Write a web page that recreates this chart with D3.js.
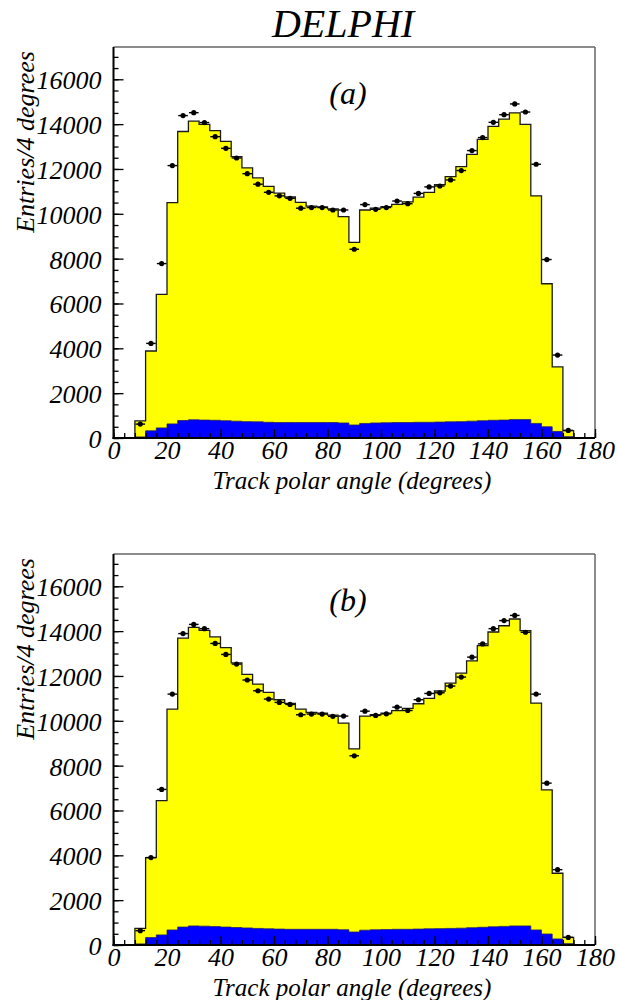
<!DOCTYPE html>
<html><head><meta charset="utf-8">
<script src="https://cdn.jsdelivr.net/npm/d3@7"></script>
<style>
body{margin:0;background:#fff}
svg{display:block}
</style>
</head><body><svg id="c" width="618" height="1000"></svg>
<script>
// ---- data ----
const binCenters = [10,14,18,22,26,30,34,38,42,46,50,54,58,62,66,70,74,78,82,86,90,94,98,102,106,110,114,118,122,126,130,134,138,142,146,150,154,158,162,166,170];
const binWidth = 4;

const mcA = [760,3880,6410,10500,13670,14130,13990,13710,13230,12550,12050,11600,11220,10920,10750,10510,10340,10310,10220,9870,8730,10170,10250,10320,10420,10530,10740,10960,11300,11660,12100,12650,13320,13900,14220,14500,13990,10800,6880,3170,330];
const dataA = [620,4220,7780,12150,14380,14510,14070,13440,12920,12490,11790,11320,10960,10800,10690,10250,10280,10280,10170,10170,8420,10410,10200,10280,10570,10450,10910,11200,11240,11510,11930,12820,13400,14080,14420,14900,14540,12210,7960,3700,340];
const bkgA = [50,320,450,630,780,810,800,790,770,750,730,720,700,690,690,690,690,690,690,670,580,650,670,680,690,690,700,700,710,720,730,750,770,790,800,820,820,650,500,290,60];

const mcB = [740,3900,6440,10520,13690,14170,14030,13740,13260,12580,12070,11640,11270,10940,10780,10520,10370,10340,10250,9900,8750,10210,10270,10340,10450,10550,10760,11000,11330,11680,12130,12670,13350,13960,14240,14540,14020,10790,6920,3200,340];
const dataB = [640,3900,6940,11190,13890,14300,14110,13450,12960,12530,11820,11340,10970,10820,10730,10270,10300,10300,10200,10210,8440,10430,10240,10310,10610,10460,10940,11220,11250,11550,11950,12840,13430,14110,14470,14700,13950,11190,7220,3360,340];
const bkgB = [50,330,450,670,800,850,840,820,800,780,760,740,720,710,700,700,700,700,700,680,580,660,680,690,700,700,710,720,730,740,750,770,790,810,830,850,850,670,490,270,60];

const yTickValues = [0,2000,4000,6000,8000,10000,12000,14000,16000];
const yTickLabels = ["0","2000","4000","6000","8000","10000","12000","14000","16000"];
const xTickValues = [0,20,40,60,80,100,120,140,160,180];
const xTickLabels = ["0","20","40","60","80","100","120","140","160","180"];

const title = "DELPHI";
const xTitle = "Track polar angle (degrees)";
const yTitle = "Entries/4 degrees";

// ---- layout ----
const styleText = (sel, size) => sel
  .attr("font-family","Liberation Serif")
  .style("font-family",'"Liberation Serif"')
  .style("font-style","italic")
  .style("font-size",size+"px").attr("fill","#000");

const svg = d3.select("#c");
const X0 = 113.5, X1 = 595;
const x = d3.scaleLinear().domain([0,180]).range([X0,X1]);

styleText(svg.append("text").attr("x",343).attr("y",37).attr("text-anchor","middle").text(title), 40);

const panels = [
  {top:47, bottom:438, mc:mcA, data:dataA, bkg:bkgA, tag:"(a)"},
  {top:554, bottom:945, mc:mcB, data:dataB, bkg:bkgB, tag:"(b)"}
];

panels.forEach(p => {
  const y = d3.scaleLinear().domain([0,17440]).range([p.bottom,p.top]);
  const g = svg.append("g");

  const pts = arr => {
    const a = binCenters.map((c,i)=>[c-binWidth/2, arr[i]]);
    a.push([binCenters[binCenters.length-1]+binWidth/2, arr[arr.length-1]]);
    return a;
  };
  const area = d3.area().curve(d3.curveStepAfter)
    .x(d=>x(d[0])).y0(y(0)).y1(d=>y(d[1]));
  const outline = arr => {
    const a = pts(arr);
    return [[a[0][0],0]].concat(a).concat([[a[a.length-1][0],0]]);
  };
  const line = d3.line().curve(d3.curveStepAfter).x(d=>x(d[0])).y(d=>y(d[1]));

  // MC (yellow)
  g.append("path").attr("d",area(pts(p.mc))).attr("fill","#ffff00");
  g.append("path").attr("d",line(outline(p.mc))).attr("fill","none")
    .attr("stroke","#1a1a1a").attr("stroke-width",1.3);
  // background (blue)
  g.append("path").attr("d",area(pts(p.bkg))).attr("fill","#0000ff");
  g.append("path").attr("d",line(outline(p.bkg))).attr("fill","none")
    .attr("stroke","#222266").attr("stroke-width",0.8);

  // data points
  const dg = g.append("g");
  binCenters.forEach((c,i)=>{
    dg.append("line").attr("x1",x(c-1.8)).attr("x2",x(c+1.8))
      .attr("y1",y(p.data[i])).attr("y2",y(p.data[i]))
      .attr("stroke","#000").attr("stroke-width",1.4);
    dg.append("circle").attr("cx",x(c)).attr("cy",y(p.data[i])).attr("r",2.6).attr("fill","#000");
  });

  // frame top/right (gray)
  g.append("line").attr("x1",X0).attr("x2",X1).attr("y1",p.top).attr("y2",p.top)
    .attr("stroke","#666").attr("stroke-width",1.5);
  g.append("line").attr("x1",X1).attr("x2",X1).attr("y1",p.top).attr("y2",p.bottom)
    .attr("stroke","#666").attr("stroke-width",1.5);

  // y axis
  const yMinor = d3.range(0,17440,500);
  const ayMin = g.append("g").attr("transform",`translate(${X0},0)`)
    .call(d3.axisLeft(y).tickValues(yMinor).tickSize(-5).tickFormat(""));
  const ayMaj = g.append("g").attr("transform",`translate(${X0},0)`)
    .call(d3.axisLeft(y).tickValues(yTickValues).tickSize(-10).tickPadding(12)
      .tickFormat((d,i)=>yTickLabels[i]));
  // x axis
  const xMinor = d3.range(0,181,4);
  const axMin = g.append("g").attr("transform",`translate(0,${p.bottom})`)
    .call(d3.axisBottom(x).tickValues(xMinor).tickSize(-5).tickFormat(""));
  const axMaj = g.append("g").attr("transform",`translate(0,${p.bottom})`)
    .call(d3.axisBottom(x).tickValues(xTickValues).tickSize(-9).tickPadding(3)
      .tickFormat((d,i)=>xTickLabels[i]));
  [ayMin,ayMaj,axMin,axMaj].forEach(a=>{
    a.attr("font-family","Liberation Serif");
    a.select(".domain").remove();
    a.selectAll(".tick line").attr("stroke","#000").attr("stroke-width",1.3);
    styleText(a.selectAll("text"), 26);
  });
  ayMaj.selectAll(".tick text").attr("dy","0.36em");
  // left & bottom axis lines
  g.append("line").attr("x1",X0).attr("x2",X0).attr("y1",p.top).attr("y2",p.bottom+1)
    .attr("stroke","#000").attr("stroke-width",2);
  g.append("line").attr("x1",X0-1).attr("x2",X1).attr("y1",p.bottom).attr("y2",p.bottom)
    .attr("stroke","#000").attr("stroke-width",2);

  // tag
  styleText(g.append("text").attr("x",348).attr("y",p.top+57).attr("text-anchor","middle").text(p.tag), 32);
  // axis titles
  styleText(g.append("text").attr("x",352).attr("y",p.bottom+51).attr("text-anchor","middle").text(xTitle), 25);
  styleText(g.append("text").attr("transform",`translate(34,${p.top+95}) rotate(-90)`)
    .attr("text-anchor","middle").text(yTitle), 26);
});
</script>
</body></html>
